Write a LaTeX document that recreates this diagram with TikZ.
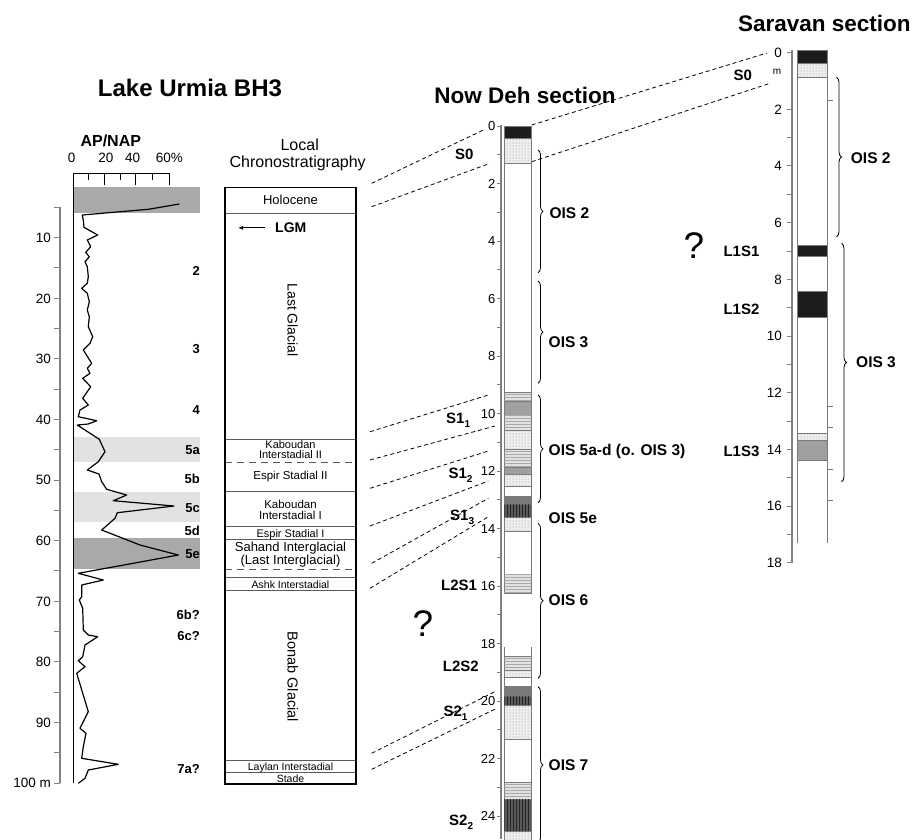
\documentclass[tikz,border=0pt]{standalone}
\usepackage{fontspec}
\setsansfont{Liberation Sans}
\usetikzlibrary{arrows.meta,patterns,decorations.pathreplacing}
\definecolor{urInk}{HTML}{1C1C1C}
\definecolor{urAxis}{HTML}{808080}
\definecolor{urDark}{HTML}{A9A9A9}
\definecolor{urLight}{HTML}{E2E2E2}
\definecolor{urMid}{HTML}{A0A0A0}
\definecolor{urDeep}{HTML}{7A7A7A}
\definecolor{urVert}{HTML}{5A5A5A}
\definecolor{urStip}{HTML}{F0F0F0}
\newcommand{\urfs}[1]{\fontsize{#1}{#1}\selectfont}

\begin{document}
\begin{tikzpicture}[
  x=1pt,y=-1pt,
  font=\sffamily,
  >=Latex,
  sectitle/.style={font=\sffamily\bfseries\urfs{22.5}, inner sep=0pt, anchor=base},
  stage/.style={font=\sffamily\bfseries\urfs{13}, inner sep=0pt, anchor=base east},
  soil/.style={font=\sffamily\bfseries\urfs{15}, inner sep=0pt, anchor=base west},
  ois/.style={font=\sffamily\bfseries\urfs{15.5}, inner sep=0pt, anchor=base west},
  dlbl/.style={font=\sffamily\urfs{13}, inner sep=0pt, anchor=base east},
  chrono/.style={font=\sffamily\urfs{11.5}, inner sep=0pt, anchor=base},
  query/.style={font=\sffamily\urfs{37}, inner sep=0pt, anchor=base},
  axisline/.style={draw=urAxis, line width=2pt},
  dtick/.style={draw=urAxis, line width=.9pt},
  bed/.style={draw=urDeep, line width=.6pt},
  wht/.style={bed, fill=white},
  blk/.style={bed, fill=urInk},
  mgry/.style={bed, fill=urMid},
  dgry/.style={bed, fill=urDeep},
  stip/.style={bed, fill=urStip, postaction={pattern=dots, pattern color=urAxis}},
  hlin/.style={bed, fill=urLight, postaction={pattern=horizontal lines, pattern color=urDark}},
  vlin/.style={bed, fill=urVert, postaction={pattern=vertical lines, pattern color=black!85}},
  tie/.style={dash pattern=on 4pt off 3pt, line width=.8pt},
  oisbrace/.style={decorate, decoration={brace, amplitude=5pt}, line width=.8pt},
]
  \clip (0,0) rectangle (912,839);

  % Lake Urmia BH3: AP/NAP curve against core depth
  \node[sectitle, font=\sffamily\bfseries\urfs{24}] (urmia) at (190,96) {Lake Urmia BH3};
  \node[sectitle, font=\sffamily\bfseries\urfs{16}] (apnap) at (110.8,146) {AP/NAP};

  \fill[urDark] (73.7,186.7) rectangle (200,212.7);
  \fill[urLight] (73.7,436.7) rectangle (200,462.3);
  \fill[urLight] (73.7,492.3) rectangle (200,521.7);
  \fill[urDark] (73.7,537.7) rectangle (200,569);

  \draw[line width=.8pt] (73.7,783) -- (73.7,173) -- (169.3,173);
  \foreach \x in {104.3,135,169.3} \draw[line width=.8pt] (\x,173) -- (\x,185);
  \foreach \x in {88.3,120,152.7} \draw[line width=.8pt] (\x,173) -- (\x,180);
  \foreach \x/\p [count=\i] in {71.7/0,106/20,132.7/40,169.3/60\%}
    \node[font=\sffamily\urfs{13.5}, inner sep=0pt, anchor=base] (pct\i) at (\x,162.7) {\p};

  \draw[axisline] (60,207.3) -- (60,783);
  \foreach \d in {5,10,...,100} \draw[dtick] (54,{177+6.06*\d}) -- (60,{177+6.06*\d});
  \foreach \d in {10,20,...,90}
    \node[dlbl, font=\sffamily\urfs{13.5}] (bh\d) at (51,{181.8+6.06*\d}) {\d};
  \node[dlbl, font=\sffamily\urfs{13.5}] (bh100) at (51,787.8) {100 m};

  \draw[line width=1.2pt, line join=round]
    (179.3,204) -- (148.3,209.3) -- (82.3,215) -- (83.3,220) -- (84,227.3) --
    (97.7,235) -- (87.3,240) -- (90.7,246.7) -- (85.7,252.3) -- (89.3,256.7) --
    (85,261.7) -- (87.3,266.7) -- (88.3,276.7) -- (87.3,283.3) -- (81.7,288.3) --
    (87.3,293.3) -- (89.3,301.7) -- (87.3,310) -- (89.3,316.7) -- (88.3,326.7) --
    (92.7,336.7) -- (90,343.3) -- (83.3,350) -- (91.7,363.3) -- (87.3,368.3) --
    (90,373.3) -- (82.7,378.3) -- (90.7,386.7) -- (82.7,398.3) -- (88.3,405) --
    (80,410) -- (78.3,416.7) -- (96.7,420.7) -- (88.3,424) -- (77.3,425) --
    (99.3,439.3) -- (105,451.7) -- (98.3,461.7) -- (87.3,470) -- (99,474) --
    (101.7,481.7) -- (106.7,489.3) -- (126.7,495) -- (113.3,500.7) -- (174,506) --
    (117.3,512.7) -- (115,518.3) -- (101.7,530) -- (140,545) -- (178.3,555) --
    (120,565.7) -- (78.3,573.3) -- (103.3,580) -- (81.7,585) -- (81.7,596.7) --
    (79.3,600) -- (82.7,608.3) -- (83.3,630) -- (88.3,635) -- (97.7,636.7) --
    (85,645) -- (82.7,656.7) -- (78.3,660.7) -- (85,666.7) -- (76.7,673.3) --
    (88.3,711.7) -- (80,728.3) -- (86,733.3) -- (83.3,746.7) -- (81.7,758.3) --
    (118.3,764.3) -- (88.3,770) -- (85,778.3) -- (78.3,783.3);

  \foreach \s/\y [count=\i] in {2/275.4,3/353,4/414.7,5a/454.7,5b/483,5c/512,
      5d/535.4,5e/558.7,6b?/619,6c?/640.7,7a?/773}
    \node[stage] (stage\i) at (200,\y) {\s};

  % Local chronostratigraphy column
  \node[font=\sffamily\urfs{16}, inner sep=0pt, anchor=base] (local) at (299.7,150.7) {Local};
  \node[font=\sffamily\urfs{16}, inner sep=0pt, anchor=base] (chron) at (297.7,167.5)
    {Chronostratigraphy};
  \foreach \y in {213.3,439,491.7,526.7,539,577.3,590.7,760.7,772.3}
    \draw[black!65, line width=.7pt] (225,\y) -- (356,\y);
  \foreach \y in {462.3,569.3}
    \draw[black!65, line width=.7pt, dash pattern=on 7pt off 5pt] (225,\y) -- (356,\y);
  \draw[line width=1.3pt] (225,187.3) rectangle (356,784);

  \node[chrono, font=\sffamily\urfs{13}] (holo) at (290.5,204.7) {Holocene};
  \node[font=\sffamily\bfseries\urfs{14}, inner sep=0pt, anchor=base west] (lgm) at (275,232.7) {LGM};
  \draw[-{Latex[length=5pt,width=4pt]}, line width=.9pt] ([xshift=-10pt]lgm.west) -- ++(-27,0);
  \node[font=\sffamily\urfs{14}, rotate=-90, inner sep=0pt] (lastgl) at (292.7,320) {Last Glacial};
  \node[chrono, font=\sffamily\urfs{11}] (kab2) at (290.5,448.6) {Kaboudan};
  \node[chrono, font=\sffamily\urfs{11}] (kab2b) at (290.5,458.2) {Interstadial II};
  \node[chrono] (esp2) at (290.5,479.1) {Espir Stadial II};
  \node[chrono] (kab1) at (290.5,508.8) {Kaboudan};
  \node[chrono] (kab1b) at (290.5,519.6) {Interstadial I};
  \node[chrono, font=\sffamily\urfs{11}] (esp1) at (290.5,537.2) {Espir Stadial I};
  \node[chrono, font=\sffamily\urfs{13}] (sahand) at (290.5,551.5) {Sahand Interglacial};
  \node[chrono, font=\sffamily\urfs{13}] (lastig) at (290.5,564.6) {(Last Interglacial)};
  \node[chrono, font=\sffamily\urfs{10.5}] (ashk) at (290.5,588.1) {Ashk Interstadial};
  \node[font=\sffamily\urfs{14.5}, rotate=-90, inner sep=0pt] (bonab) at (292.7,676.7) {Bonab Glacial};
  \node[chrono, font=\sffamily\urfs{10.5}] (laylan) at (290.5,770.5) {Laylan Interstadial};
  \node[chrono, font=\sffamily\urfs{10.5}] (stade) at (290.5,782) {Stade};

  % ties between the lake record and the loess sections
  \foreach \ax/\ay/\bx/\by in {371.7/183.3/483.3/130, 371.7/206.7/490/163.3,
      370/431.7/488.3/395, 370/460/495/426, 370/488.3/488.3/451, 370/526/488.3/481,
      371.7/563.3/488.3/498.3, 370/588.3/488.3/516.7, 371.7/753.3/496.7/690.7,
      371.7/769.3/496.7/708.3, 531.7/125/767/53, 531.7/161.7/770/83.3}
    \draw[tie] (\ax,\ay) -- (\bx,\by);

  % Now Deh section
  \node[sectitle] (nowdeh) at (525,103.3) {Now Deh section};
  \draw[axisline] (501,125) -- (501,839);
  \foreach \d in {0,...,25} \draw[dtick] (497,{126+28.75*\d}) -- (501,{126+28.75*\d});
  \foreach \d in {0,2,...,24} \node[dlbl] (nd\d) at (495.5,{130.6+28.75*\d}) {\d};
  \foreach \t/\b/\s in {126/138.3/blk, 138.3/163.3/stip, 163.3/392.3/wht,
      392.3/401.7/hlin, 401.7/415/mgry, 415/430.7/hlin, 430.7/449/stip,
      449/467.3/hlin, 467.3/474.3/mgry, 474.3/486/stip, 486/496/wht,
      496/504/dgry, 504/517.3/vlin, 517.3/531.7/stip, 531.7/574.3/wht,
      574.3/593.3/hlin, 656.7/670/hlin, 670/677.7/stip, 677.7/686/wht,
      686/696/dgry, 696/705.7/vlin, 705.7/739.3/stip, 739.3/782.3/wht,
      782.3/799.3/hlin, 799.3/831.7/vlin, 831.7/845/stip}
    \draw[\s] (504.3,\t) rectangle (531,\b);
  \draw[bed] (504.3,646.7) -- (504.3,656.7) (531,646.7) -- (531,656.7);

  \node[soil] (s0a) at (455,159.5) {S0};
  \node[soil] (s11) at (446,423) {S1\raisebox{-4pt}{\urfs{10}1}};
  \node[soil] (s12) at (448.3,478.5) {S1\raisebox{-4pt}{\urfs{10}2}};
  \node[soil] (s13) at (450,520.7) {S1\raisebox{-4pt}{\urfs{10}3}};
  \node[soil] (l2s1) at (441,590.7) {L2S1};
  \node[soil] (l2s2) at (442.7,671.7) {L2S2};
  \node[soil] (s21) at (443.3,716) {S2\raisebox{-4pt}{\urfs{10}1}};
  \node[soil] (s22) at (449,825) {S2\raisebox{-4pt}{\urfs{10}2}};
  \node[query] (qnd) at (423,636.7) {?};

  \draw[oisbrace] (538,150) -- (538,272.7);
  \draw[oisbrace] (538,281) -- (538,383.3);
  \draw[oisbrace] (538,395) -- (538,502.7);
  \draw[oisbrace] (538,523.3) -- (538,678.3);
  \draw[oisbrace] (538,686.7) -- (538,843);
  \node[ois] (nd2) at (549.3,218.8) {OIS 2};
  \node[ois] (nd3) at (548.5,347.2) {OIS 3};
  \node[ois] (nd5) at (548.5,455.5) {OIS 5a-d (o. OIS 3)};
  \node[ois] (nd5e) at (548.5,523.8) {OIS 5e};
  \node[ois] (nd6) at (548.5,605.5) {OIS 6};
  \node[ois] (nd7) at (548.5,770.5) {OIS 7};

  % Saravan section
  \node[sectitle] (saravan) at (824.3,31.7) {Saravan section};
  \draw[axisline] (791.7,50) -- (791.7,563.3);
  \foreach \d in {0,2,3,...,18} \draw[dtick] (786.7,{52.5+28.35*\d}) -- (791.7,{52.5+28.35*\d});
  \foreach \d in {0,2,...,18}
    \node[dlbl, font=\sffamily\urfs{13.5}] (sv\d) at (782,{57.3+28.35*\d}) {\d};
  \node[font=\sffamily\urfs{10}, inner sep=0pt] (svm) at (777,71.7) {m};
  \foreach \t/\b/\s in {50/63.3/blk, 63.3/77.3/stip, 77.3/245/wht, 245/256.7/blk,
      256.7/291.5/wht, 291.5/317.3/blk, 317.3/433.3/wht, 433.3/440/stip, 440/460.7/mgry}
    \draw[\s] (797.7,\t) rectangle (827.7,\b);
  \draw[bed] (797.7,460.7) -- (797.7,543.3) (827.7,460.7) -- (827.7,543.3);
  \foreach \y in {100.7,406,427.7,469.3,500} \draw[bed] (827.7,\y) -- (833,\y);

  \node[soil] (s0b) at (733.3,80) {S0};
  \node[soil] (l1s1) at (723.3,256.7) {L1S1};
  \node[soil] (l1s2) at (723.3,314) {L1S2};
  \node[soil] (l1s3) at (723.3,456.7) {L1S3};
  \node[query] (qsv) at (694,258.3) {?};

  \draw[oisbrace] (836.5,77.3) -- (836.5,236.7);
  \draw[oisbrace] (841.5,243.3) -- (841.5,481.7);
  \node[ois] (sv2) at (850.7,163.8) {OIS 2};
  \node[ois] (sv3) at (856,367.2) {OIS 3};
\end{tikzpicture}
\end{document}
